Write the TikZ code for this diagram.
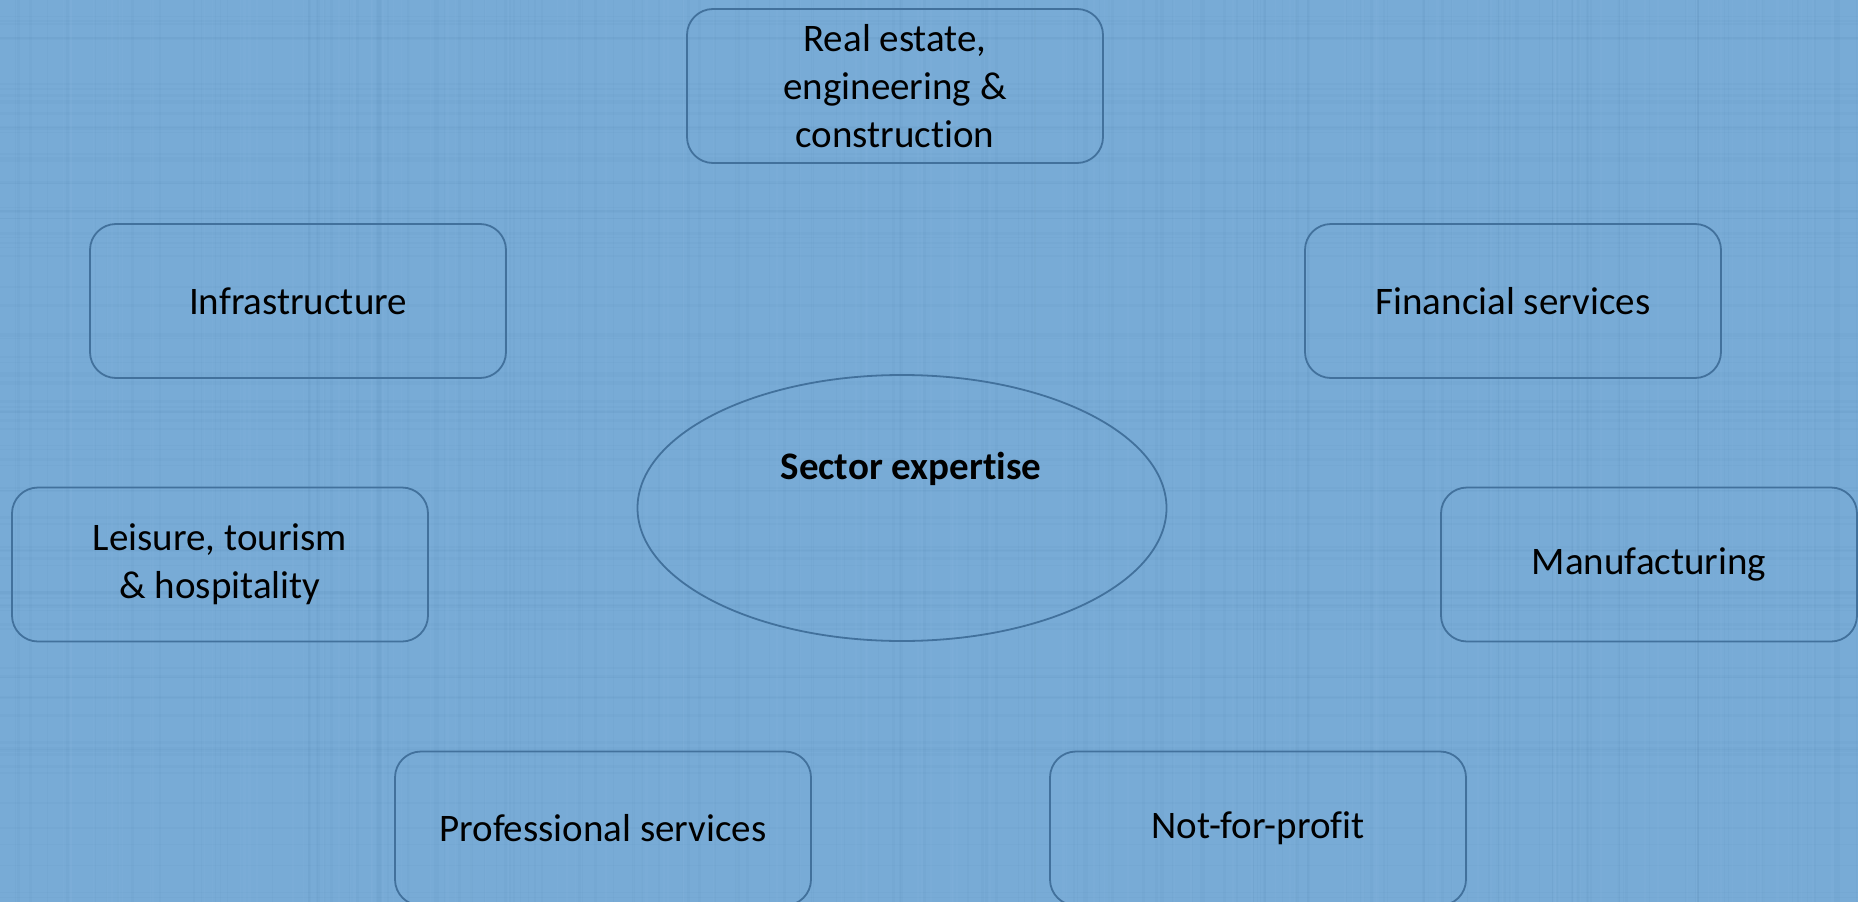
\documentclass[tikz,border=0pt]{standalone}
\usepackage{fontspec}
\setmainfont{Carlito}[Ligatures=NoCommon]
\usetikzlibrary{shapes.geometric}
\definecolor{bgblue}{RGB}{120,171,214}
\definecolor{edgeblue}{RGB}{66,113,156}
\definecolor{weavedark}{RGB}{85,130,175}
\definecolor{weavelight}{RGB}{155,198,232}
\begin{document}
\begin{tikzpicture}[x=1pt,y=1pt,
  sector/.style={draw=edgeblue, line width=1.8pt, rounded corners=26pt,
    minimum width=416pt, minimum height=154pt, align=center,
    font=\fontsize{39}{48}\selectfont, inner sep=0pt},
  hub/.style={draw=edgeblue, line width=1.8pt, ellipse, minimum width=529pt,
    minimum height=266pt, inner sep=0pt},
  weave/.style={line width=#1, opacity=0.07}]
\useasboundingbox (0,0) rectangle (1858,-902);
\begin{scope}
\clip (0,0) rectangle (1858,-902);
\fill[bgblue] (0,0) rectangle (1858,-902);
\pgfmathsetseed{17}
\foreach \i in {1,...,160}{
  \pgfmathsetmacro\xx{rnd*1858}
  \pgfmathsetmacro\ww{0.6+rnd*2.5}
  \draw[weave=\ww pt, weavedark] (\xx,0) -- (\xx,-902);
}
\foreach \i in {1,...,90}{
  \pgfmathsetmacro\yy{-rnd*902}
  \pgfmathsetmacro\ww{0.6+rnd*2.5}
  \draw[weave=\ww pt, weavedark] (0,\yy) -- (1858,\yy);
}
\foreach \i in {1,...,120}{
  \pgfmathsetmacro\xx{rnd*1858}
  \pgfmathsetmacro\ww{0.6+rnd*2}
  \draw[weave=\ww pt, weavelight] (\xx,0) -- (\xx,-902);
}
\end{scope}
\node[sector] (real) at (895,-86) {Real estate,\\engineering \&\\construction};
\node[sector] (infra) at (298,-301) {Infrastructure};
\node[sector] (fin) at (1513,-301) {Financial services};
\node[sector] (leis) at (220,-564.5) {Leisure, tourism\\\& hospitality};
\node[sector] (manu) at (1649,-564.5) {Manufacturing};
\node[sector] (prof) at (603,-828.5) {Professional services};
\node[sector] (nfp) at (1258,-828.5) {Not-for-profit};
\node[hub] (core) at (902,-508) {};
\node[font=\fontsize{39}{48}\selectfont\bfseries, inner sep=0pt] (coretitle) at ([xshift=9pt,yshift=39pt]core.center) {Sector expertise};
\end{tikzpicture}
\end{document}
